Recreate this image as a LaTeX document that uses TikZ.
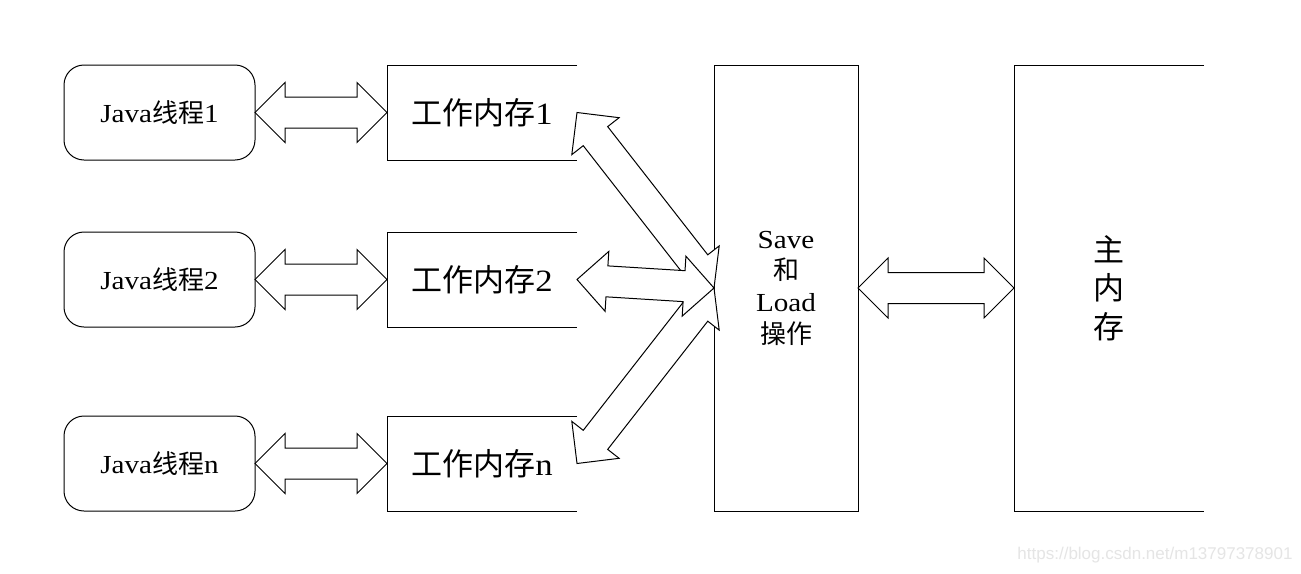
\documentclass[tikz,border=0pt]{standalone}
\usepackage{fontspec}
\setmainfont{Liberation Serif}[FakeStretch=1.12]
\newfontfamily\cjk{Noto Sans CJK SC}
\newfontfamily\wmfont{Liberation Sans}
\usetikzlibrary{calc}
\newcommand\blockarrow[2]{%
  \coordinate (ba1) at ($(#1)!30pt!(#2)$);
  \coordinate (ba2) at ($(#2)!30pt!(#1)$);
  \draw[arrowshape] (#1) -- ($(ba1)!30pt!90:(#2)$) -- ($(ba1)!15.5pt!90:(#2)$)
    -- ($(ba2)!15.5pt!-90:(#1)$) -- ($(ba2)!30pt!-90:(#1)$) -- (#2)
    -- ($(ba2)!30pt!90:(#1)$) -- ($(ba2)!15.5pt!90:(#1)$)
    -- ($(ba1)!15.5pt!-90:(#2)$) -- ($(ba1)!30pt!-90:(#2)$) -- cycle;}
\tikzset{
  thread/.style={draw, rounded corners=20pt, minimum width=191pt, minimum height=95pt, inner sep=0pt, outer sep=0pt, font=\fontsize{26}{30}\selectfont},
  workmem/.style={minimum width=190pt, minimum height=95pt, inner sep=0pt, outer sep=0pt, font=\fontsize{31}{36}\selectfont},
  savebox/.style={draw, minimum width=144pt, minimum height=446pt, inner sep=0pt, outer sep=0pt, align=center, font=\fontsize{26}{31.7}\selectfont},
  mainbox/.style={minimum width=190pt, minimum height=446pt, inner sep=0pt, outer sep=0pt, align=center, font=\fontsize{31}{38.5}\selectfont},
  arrowshape/.style={draw, fill=white, line width=1pt, line join=miter},
  openbox/.style={draw, line width=1pt}
}
\begin{document}
\begin{tikzpicture}[x=1pt, y=-1pt, line width=1pt]
\useasboundingbox[fill=white] (0,0) rectangle (1301,573);
% threads
\node[thread] (j1) at (159.5,112.5) {Java{\cjk 线程}1};
\node[thread] (j2) at (159.5,279.5) {Java{\cjk 线程}2};
\node[thread] (jn) at (159.5,463.5) {Java{\cjk 线程}n};
% working memories
\node[workmem] (w1) at (482,112.5) {{\cjk 工作内存}1};
\node[workmem] (w2) at (482,279.5) {{\cjk 工作内存}2};
\node[workmem] (wn) at (482,463.5) {{\cjk 工作内存}n};
\foreach \w in {w1,w2,wn}{
  \draw[openbox] (\w.north east) -- (\w.north west) -- (\w.south west) -- (\w.south east);
}
% save/load
\node[savebox] (save) at (786,288) {Save\\{\cjk 和}\\Load\\{\cjk 操作}};
% main memory
\node[mainbox] (main) at (1109,288) {{\cjk 主}\\{\cjk 内}\\{\cjk 存}};
\draw[openbox] (main.north east) -- (main.north west) -- (main.south west) -- (main.south east);
% arrows
\blockarrow{j1.east}{w1.west}
\blockarrow{j2.east}{w2.west}
\blockarrow{jn.east}{wn.west}
\blockarrow{save.east}{main.west}
\blockarrow{w1.east}{save.west}
\blockarrow{wn.east}{save.west}
\blockarrow{w2.east}{save.west}
% watermark
\node[anchor=east, text=black!10, font=\wmfont\fontsize{17}{20}\selectfont, inner sep=0pt] (wm) at (1293,555) {https://blog.csdn.net/m13797378901};
\end{tikzpicture}
\end{document}
